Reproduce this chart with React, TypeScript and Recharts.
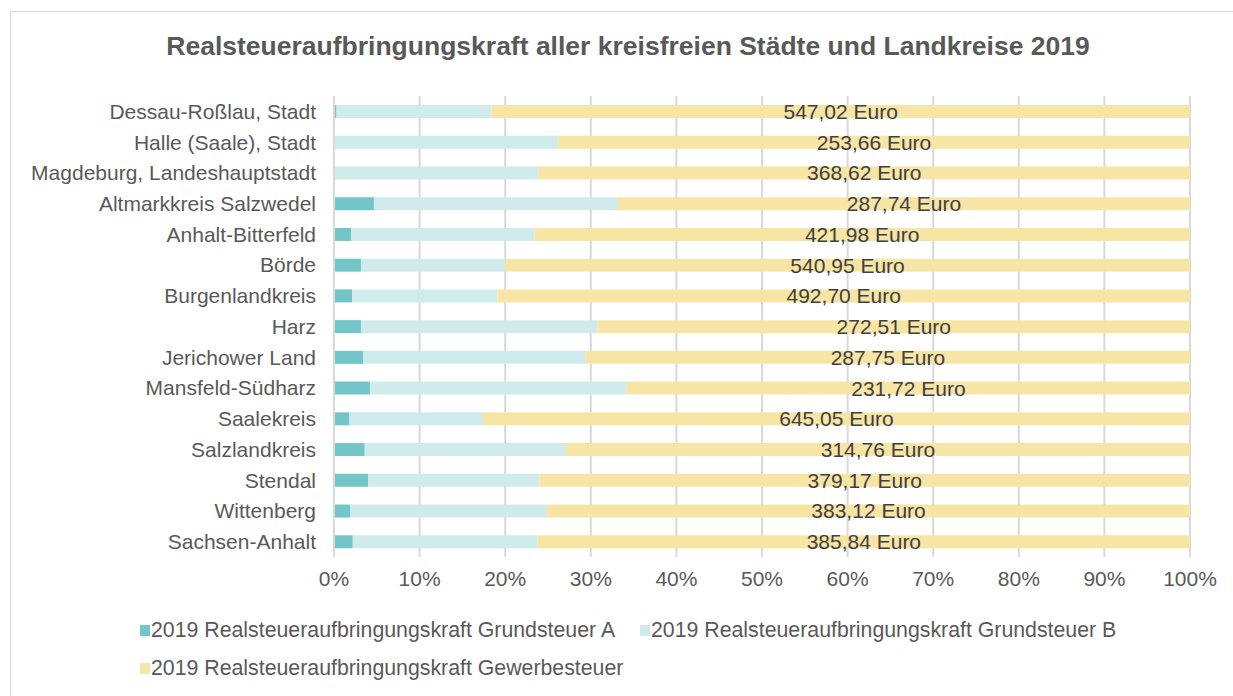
import React from "react";
import { BarChart, Bar, XAxis, YAxis, CartesianGrid, LabelList } from "recharts";

const categories = [
  "Dessau-Roßlau, Stadt",
  "Halle (Saale), Stadt",
  "Magdeburg, Landeshauptstadt",
  "Altmarkkreis Salzwedel",
  "Anhalt-Bitterfeld",
  "Börde",
  "Burgenlandkreis",
  "Harz",
  "Jerichower Land",
  "Mansfeld-Südharz",
  "Saalekreis",
  "Salzlandkreis",
  "Stendal",
  "Wittenberg",
  "Sachsen-Anhalt",
];

// Euro per inhabitant (A and B estimated from bar shares)
const grundsteuerA = [2.0, 0.3, 0.5, 20.1, 11.0, 21.3, 12.8, 12.4, 13.9, 14.8, 14.1, 15.5, 20.0, 9.7, 11.1];
const grundsteuerB = [121.3, 89.7, 115.3, 122.8, 117.9, 113.9, 103.5, 108.9, 106.0, 105.7, 121.8, 101.5, 99.8, 117.3, 109.4];
const gewerbesteuer = [547.02, 253.66, 368.62, 287.74, 421.98, 540.95, 492.7, 272.51, 287.75, 231.72, 645.05, 314.76, 379.17, 383.12, 385.84];

const xTicks = [0, 0.1, 0.2, 0.3, 0.4, 0.5, 0.6, 0.7, 0.8, 0.9, 1];

const seriesNames = [
  "2019 Realsteueraufbringungskraft Grundsteuer A",
  "2019 Realsteueraufbringungskraft Grundsteuer B",
  "2019 Realsteueraufbringungskraft Gewerbesteuer",
];
const colors = ["#72C5C8", "#CFEBEB", "#F7E5A5"];

const data = categories.map((name, i) => ({
  name,
  a: grundsteuerA[i],
  b: grundsteuerB[i],
  g: gewerbesteuer[i],
}));

const font = "'Liberation Sans', Arial, sans-serif";
const textColor = "#595959";

const fmtEuro = (v: any) => Number(v).toFixed(2).replace(".", ",") + " Euro";

export default function App() {
  return (
    <div style={{ position: "absolute", left: 0, top: 0, width: 1233, height: 696, background: "#fff", fontFamily: font }}>
      <div
        style={{
          position: "absolute",
          left: 10,
          top: 11,
          width: 1230,
          height: 690,
          border: "1px solid #d9d9d9",
          boxSizing: "border-box",
        }}
      />
      <div
        style={{
          position: "absolute",
          left: 10,
          width: 1236,
          top: 30,
          textAlign: "center",
          fontSize: 26.5,
          lineHeight: "32px",
          fontWeight: "bold",
          color: textColor,
          whiteSpace: "nowrap",
        }}
      >
        Realsteueraufbringungskraft aller kreisfreien Städte und Landkreise 2019
      </div>
      <div style={{ position: "absolute", left: 0, top: 0 }}>
        <BarChart
          width={1233}
          height={696}
          data={data}
          layout="vertical"
          stackOffset="expand"
          barSize={13}
          margin={{ top: 96, right: 43, bottom: 109, left: 0 }}
        >
          <CartesianGrid horizontal={false} stroke="#d9d9d9" strokeWidth={2} />
          <XAxis
            type="number"
            domain={[0, 1]}
            ticks={xTicks}
            tickFormatter={(v: number) => Math.round(v * 100) + "%"}
            axisLine={false}
            tickLine={false}
            tickMargin={8}
            height={30}
            tick={{ fill: textColor, fontSize: 21, fontFamily: font }}
          />
          <YAxis
            type="category"
            dataKey="name"
            width={334}
            axisLine={{ stroke: "#d9d9d9", strokeWidth: 2 }}
            tickLine={false}
            tickSize={0}
            tickMargin={18}
            interval={0}
            tick={{ fill: textColor, fontSize: 21, fontFamily: font }}
          />
          <Bar dataKey="a" stackId="s" fill={colors[0]} isAnimationActive={false} />
          <Bar dataKey="b" stackId="s" fill={colors[1]} isAnimationActive={false} />
          <Bar dataKey="g" stackId="s" fill={colors[2]} isAnimationActive={false}>
            <LabelList
              dataKey="g"
              position="center"
              formatter={fmtEuro}
              style={{ fill: "#404040", fontSize: 21, fontFamily: font }}
            />
          </Bar>
        </BarChart>
      </div>
      {[
        { x: 140, y: 630, i: 0 },
        { x: 640, y: 630, i: 1 },
        { x: 140, y: 668, i: 2 },
      ].map(({ x, y, i }) => (
        <div
          key={i}
          style={{
            position: "absolute",
            left: x,
            top: y - 13,
            height: 26,
            display: "flex",
            alignItems: "center",
            fontSize: 21.3,
            color: textColor,
            whiteSpace: "nowrap",
          }}
        >
          <span style={{ display: "inline-block", width: 10, height: 11, background: colors[i], marginRight: 1 }} />
          {seriesNames[i]}
        </div>
      ))}
    </div>
  );
}
